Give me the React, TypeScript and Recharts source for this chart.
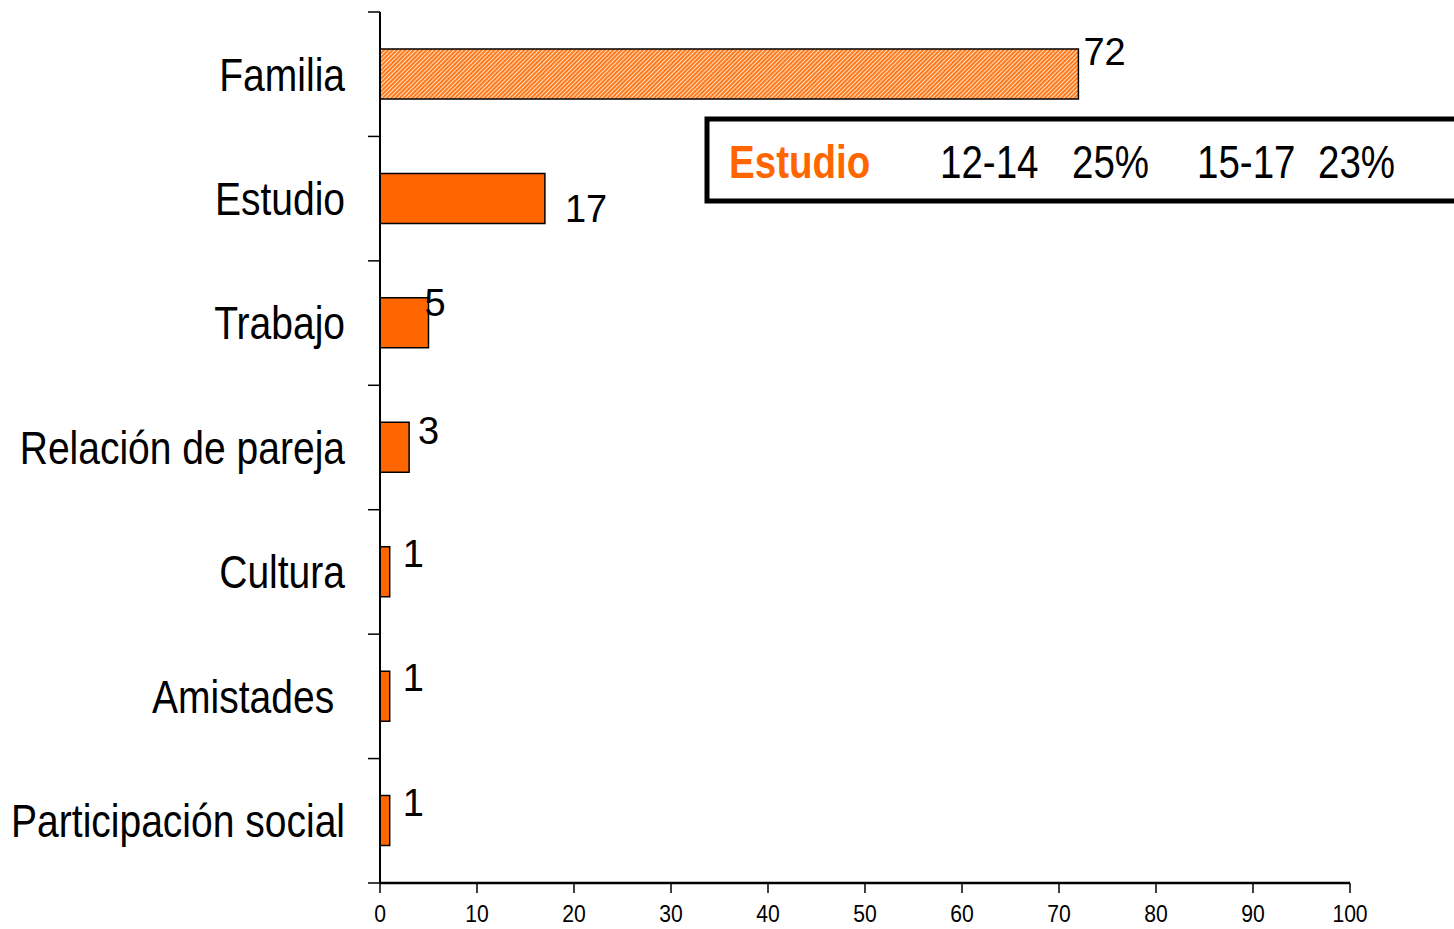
import React from "react";
import { BarChart, Bar, XAxis, YAxis, Cell, LabelList } from "recharts";

const categories = [
  "Familia",
  "Estudio",
  "Trabajo",
  "Relación de pareja",
  "Cultura",
  "Amistades\u00A0",
  "Participación social",
];
const values = [72, 17, 5, 3, 1, 1, 1];
const xTicks = [0, 10, 20, 30, 40, 50, 60, 70, 80, 90, 100];
const boxTitle = "Estudio";
const boxItems = ["12-14", "25%", "15-17", "23%"];

// label offsets (style only)
const labelDx = [5, 20, -4, 9, 13, 13, 13];
const labelDy = [-22, 11, -20, -16, -18, -18, -18];

const data = categories.map((name, i) => ({ name, value: values[i] }));

const REG = "'Liberation Sans', Arial, sans-serif";
const SQ = 0.82;

const NarrowText = (p: any) => {
  const { x, y, anchor = "start", size, weight = "normal", fill = "#000", sq = SQ, children } = p;
  return (
    <text
      transform={`translate(${x},${y}) scale(${sq},1)`}
      x={0}
      y={0}
      textAnchor={anchor}
      dominantBaseline="central"
      fontFamily={REG}
      fontSize={size}
      fontWeight={weight}
      fill={fill}
    >
      {children}
    </text>
  );
};

const YTick = (props: any) => {
  const { x, y, payload, index } = props;
  const off = payload && payload.offset ? payload.offset : 62.2;
  const axisX = x + 35;
  return (
    <g>
      <line x1={axisX - 12} x2={axisX} y1={y - off} y2={y - off} stroke="#000" strokeWidth={1.5} />
      {index === categories.length - 1 && (
        <line x1={axisX - 12} x2={axisX} y1={y + off} y2={y + off} stroke="#000" strokeWidth={1.5} />
      )}
      <NarrowText x={x} y={y} anchor="end" size={47} sq={0.83}>
        {payload.value}
      </NarrowText>
    </g>
  );
};

const XTick = (props: any) => {
  const { x, y, payload } = props;
  return (
    <NarrowText x={x} y={y + 7} anchor="middle" size={24} sq={0.88}>
      {payload.value}
    </NarrowText>
  );
};

const ValueLabel = (props: any) => {
  const { x, y, width, height, value, index } = props;
  return (
    <text
      x={x + width + labelDx[index]}
      y={y + height / 2 + labelDy[index]}
      dominantBaseline="central"
      textAnchor="start"
      fontFamily={REG}
      fontSize={38}
      fill="#000"
    >
      {value}
    </text>
  );
};

export default function App() {
  return (
    <div style={{ position: "absolute", left: 0, top: 0, width: 1454, height: 929, background: "#fff" }}>
      <BarChart
        width={1454}
        height={929}
        data={data}
        layout="vertical"
        margin={{ top: 12, right: 104, bottom: 0, left: 0 }}
        barCategoryGap={0}
      >
        <defs>
          <pattern id="hatch" width="3" height="3" patternUnits="userSpaceOnUse" patternTransform="rotate(45)">
            <rect width="3" height="3" fill="#FFE0C8" />
            <rect width="2" height="3" fill="#FF7A1A" />
          </pattern>
        </defs>
        <XAxis
          type="number"
          domain={[0, 100]}
          ticks={xTicks}
          interval={0}
          height={46}
          tickSize={10}
          tickMargin={14}
          stroke="#000"
          axisLine={{ stroke: "#000", strokeWidth: 2.5 }}
          tickLine={{ stroke: "#000", strokeWidth: 1.5 }}
          tick={<XTick />}
        />
        <YAxis
          type="category"
          dataKey="name"
          width={380}
          tickSize={12}
          tickMargin={23}
          tickLine={false}
          axisLine={{ stroke: "#000", strokeWidth: 2 }}
          tick={<YTick />}
          interval={0}
        />
        <Bar dataKey="value" barSize={50} stroke="#000" strokeWidth={1.5} isAnimationActive={false}>
          {data.map((d, i) => (
            <Cell key={d.name} fill={i === 0 ? "url(#hatch)" : "#FF6600"} />
          ))}
          <LabelList dataKey="value" content={<ValueLabel />} />
        </Bar>
      </BarChart>
      <svg width={1454} height={929} style={{ position: "absolute", left: 0, top: 0, pointerEvents: "none" }}>
        <rect x={707} y={119} width={800} height={82} fill="#fff" stroke="#000" strokeWidth={5} />
        <NarrowText x={729} y={162} size={47} weight="bold" fill="#FF6600">
          {boxTitle}
        </NarrowText>
        <NarrowText x={940} y={162} size={47}>
          {boxItems[0]}
        </NarrowText>
        <NarrowText x={1072} y={162} size={47}>
          {boxItems[1]}
        </NarrowText>
        <NarrowText x={1197} y={162} size={47}>
          {boxItems[2]}
        </NarrowText>
        <NarrowText x={1318} y={162} size={47}>
          {boxItems[3]}
        </NarrowText>
      </svg>
    </div>
  );
}
